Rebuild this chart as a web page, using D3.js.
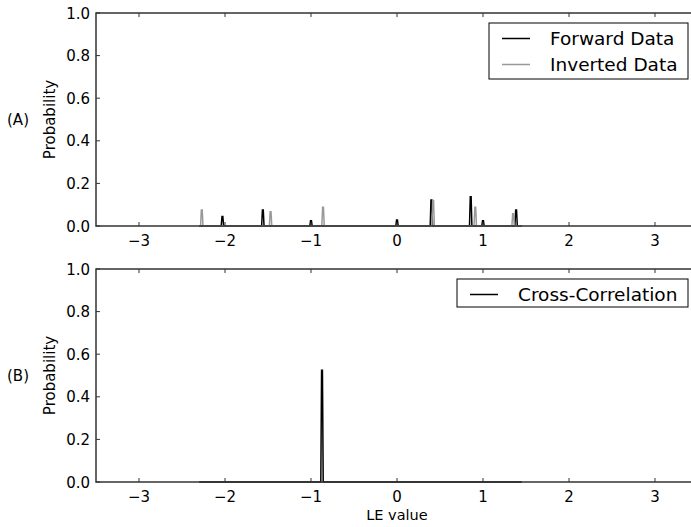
<!DOCTYPE html>
<html>
<head>
<meta charset="utf-8">
<script src="https://cdn.jsdelivr.net/npm/d3@7"></script>
<style>
  body { margin: 0; background: #fff; }
  text { font-family: "DejaVu Sans", sans-serif; fill: #000; }
</style>
</head>
<body>
<script>
// peak positions (LE value) and heights (probability)
var forwardX = [-2.03, -1.56, -1.0, 0.0, 0.40, 0.857, 1.0, 1.385];
var forwardY = [0.045, 0.075, 0.025, 0.028, 0.122, 0.137, 0.025, 0.075];
var invertedX = [-2.27, -1.47, -0.86, 0.42, 0.91, 1.35];
var invertedY = [0.075, 0.067, 0.088, 0.12, 0.088, 0.057];
var crossX = [-0.872];
var crossY = [0.525];
var xTicks = [-3, -2, -1, 0, 1, 2, 3];
var yTicks = [0, 0.2, 0.4, 0.6, 0.8, 1.0];

var width = 691, height = 527;
var svg = d3.select("body").append("svg")
    .attr("width", width).attr("height", height);

var x = d3.scaleLinear().domain([-3.5, 3.5]).range([96, 698]);

// turn peaks into a spiky line sitting on zero
function spikes(xs, ys, lo, hi) {
    var pts = [[lo, 0]];
    var order = d3.range(xs.length).sort(function(a, b) { return xs[a] - xs[b]; });
    order.forEach(function(i) {
        pts.push([xs[i] - 0.014, 0], [xs[i] - 0.005, ys[i]], [xs[i] + 0.005, ys[i]], [xs[i] + 0.014, 0]);
    });
    pts.push([hi, 0]);
    return pts;
}

function panel(top, bottom, label, series, legend) {
    var y = d3.scaleLinear().domain([0, 1]).range([bottom, top]);
    var g = svg.append("g");

    var line = d3.line()
        .x(function(d) { return x(d[0]); })
        .y(function(d) { return y(d[1]); });

    series.forEach(function(s) {
        g.append("path")
            .datum(spikes(s.xs, s.ys, s.lo, s.hi))
            .attr("d", line)
            .style("fill", "none")
            .style("stroke", s.color)
            .style("stroke-width", s.w);
    });

    // frame
    g.append("rect")
        .attr("x", x(-3.5)).attr("y", top)
        .attr("width", x(3.5) - x(-3.5)).attr("height", bottom - top)
        .style("fill", "none").style("stroke", "#333").style("stroke-width", 1.5);

    // x ticks, inward on bottom and top
    xTicks.forEach(function(t) {
        g.append("line").attr("x1", x(t)).attr("x2", x(t))
            .attr("y1", bottom).attr("y2", bottom - 4)
            .style("stroke", "#333");
        g.append("line").attr("x1", x(t)).attr("x2", x(t))
            .attr("y1", top).attr("y2", top + 4)
            .style("stroke", "#333");
        g.append("text").attr("x", x(t)).attr("y", bottom + 20)
            .attr("text-anchor", "middle").style("font-size", "15px")
            .text(t < 0 ? "\u2212" + Math.abs(t) : t);
    });

    yTicks.forEach(function(t) {
        g.append("line").attr("x1", x(-3.5)).attr("x2", x(-3.5) + 4)
            .attr("y1", y(t)).attr("y2", y(t))
            .style("stroke", "#333");
        g.append("text").attr("x", x(-3.5) - 6).attr("y", y(t) + 5.5)
            .attr("text-anchor", "end").style("font-size", "15px")
            .text(t.toFixed(1));
    });

    g.append("text")
        .attr("transform", "translate(55," + ((top + bottom) / 2) + ") rotate(-90)")
        .attr("text-anchor", "middle").style("font-size", "15px")
        .text("Probability");

    g.append("text").attr("x", 18).attr("y", (top + bottom) / 2 + 5)
        .attr("text-anchor", "middle").style("font-size", "15px")
        .text(label);

    // legend
    var lg = g.append("g");
    lg.append("rect")
        .attr("x", legend.x).attr("y", legend.y)
        .attr("width", legend.w).attr("height", legend.h)
        .style("fill", "#fff").style("stroke", "#000").style("stroke-width", 1);
    series.forEach(function(s, i) {
        var ly = legend.y + 15.5 + i * 26;
        lg.append("line")
            .attr("x1", legend.x + 13).attr("x2", legend.x + 41)
            .attr("y1", ly).attr("y2", ly)
            .style("stroke", s.color).style("stroke-width", s.w);
        lg.append("text").attr("x", legend.x + 61).attr("y", ly + 6.5)
            .style("font-size", "18.5px").text(s.name);
    });
    return y;
}

panel(13, 226, "(A)", [
    {name: "Forward Data", xs: forwardX, ys: forwardY, color: "#000", w: 1.5, lo: -2.3, hi: 1.45},
    {name: "Inverted Data", xs: invertedX, ys: invertedY, color: "#999", w: 1.5, lo: -2.3, hi: 1.45}
], {x: 489, y: 23, w: 199, h: 56});

panel(269, 482, "(B)", [
    {name: "Cross-Correlation", xs: crossX, ys: crossY, color: "#000", w: 1.5, lo: -2.3, hi: 1.45}
], {x: 457, y: 279, w: 231, h: 28});

svg.append("text").attr("x", x(0)).attr("y", 520)
    .attr("text-anchor", "middle").style("font-size", "14.5px")
    .text("LE value");
</script>
</body>
</html>
